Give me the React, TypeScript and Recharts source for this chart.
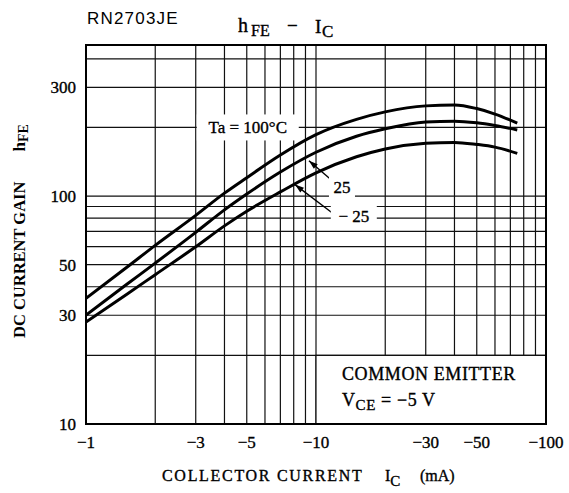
// hFE - IC characteristic, RN2703JE

import { LineChart, Line, XAxis, YAxis, CartesianGrid, ReferenceArea, ReferenceDot, ReferenceLine } from 'recharts';

// collector current magnitude (mA), plotted with negative labels
const icValues = [1, 1.5, 2, 3, 4, 5, 7, 10, 15, 20, 30, 40, 50, 60, 75];
const hfeTa100 = [35.6, 48.6, 60.8, 82.3, 103, 120.4, 151.4, 186, 217, 234, 248.7, 251, 242, 229, 209];
const hfeTa25 = [30, 40.9, 50.8, 69.3, 87, 102.1, 127.5, 155.7, 183, 197.3, 211.3, 213, 209.5, 203.8, 195];
const hfeTaM25 = [28, 37, 45.2, 59.9, 74, 85.8, 104.3, 126.5, 148.8, 161, 170.5, 172, 168.5, 164, 154];

const xGridTicks = [1, 2, 3, 4, 5, 6, 7, 8, 9, 10, 20, 30, 40, 50, 60, 70, 80, 90, 100];
const yGridTicks = [10, 20, 30, 40, 50, 60, 70, 80, 90, 100, 200, 300, 400];
const xLabelTicks = [1, 3, 5, 10, 30, 50, 100];
const yLabelTicks = [10, 30, 50, 100, 300];

const chartData = icValues.map((ic, i) => ({
  ic,
  ta100: hfeTa100[i],
  ta25: hfeTa25[i],
  taM25: hfeTaM25[i],
}));

const SERIF = '"Liberation Serif", "DejaVu Serif", serif';
// thin outline to give the serif text a little more weight, like the printed sheet
const heavy = { stroke: '#000', strokeWidth: 0.35 };

function XTick({ x, y, payload }: any) {
  if (!xLabelTicks.includes(payload.value)) return null;
  return (
    <text x={x} y={y + 24} textAnchor="middle" fontFamily={SERIF} fontSize={17} fill="#000" {...heavy}>
      {'\u2212' + payload.value}
    </text>
  );
}

function YTick({ x, y, payload }: any) {
  if (!yLabelTicks.includes(payload.value)) return null;
  return (
    <text x={x - 10} y={y + 6} textAnchor="end" fontFamily={SERIF} fontSize={17} fill="#000" {...heavy}>
      {payload.value}
    </text>
  );
}

// text on a white patch, placed in data coordinates
function boxedLabel(text: string, w: number, h: number) {
  return (p: any) => (
    <g>
      <rect x={p.cx - w / 2} y={p.cy - h / 2} width={w} height={h} fill="#fff" />
      <text x={p.cx} y={p.cy + 6} textAnchor="middle" fontFamily={SERIF} fontSize={17} fill="#000" {...heavy}>
        {text}
      </text>
    </g>
  );
}

function plainText(content: any) {
  return (p: any) => (
    <text x={p.cx} y={p.cy} fontFamily={SERIF} fontSize={18} fill="#000" letterSpacing={0.6} {...heavy}>
      {content}
    </text>
  );
}

function arrowLine(p: any) {
  const { x1, y1, x2, y2 } = p;
  const a = Math.atan2(y2 - y1, x2 - x1);
  const L = 9, W = 3;
  const bx = x2 - L * Math.cos(a), by = y2 - L * Math.sin(a);
  const pts = [
    `${x2},${y2}`,
    `${bx + W * Math.sin(a)},${by - W * Math.cos(a)}`,
    `${bx - W * Math.sin(a)},${by + W * Math.cos(a)}`,
  ].join(' ');
  return (
    <g>
      <line x1={x1} y1={y1} x2={x2} y2={y2} stroke="#000" strokeWidth={1.4} />
      <polygon points={pts} fill="#000" />
    </g>
  );
}

export default function App() {
  return (
    <div style={{ position: 'absolute', left: 0, top: 0, width: 569, height: 493, background: '#fff' }}>
      <LineChart width={569} height={493} data={chartData} margin={{ top: 45, right: 23, bottom: 0, left: 0 }}>
        <CartesianGrid stroke="#111" strokeWidth={1.2} fill="#fff" />
        <XAxis dataKey="ic" type="number" scale="log" domain={[1, 100]} ticks={xGridTicks} interval={0}
          allowDataOverflow axisLine={false} tickLine={false} tickSize={0} tickMargin={0} height={69} tick={<XTick />} />
        <YAxis type="number" scale="log" domain={[10, 460]} ticks={yGridTicks} interval={0}
          allowDataOverflow axisLine={false} tickLine={false} tickSize={0} tickMargin={0} width={86} tick={<YTick />} />

        <ReferenceArea x1={10} x2={100} y1={10} y2={20} fill="#fff" fillOpacity={1} stroke="#111" strokeWidth={1.2} />
        <ReferenceDot x={5.05} y={200} r={0} ifOverflow="visible" shape={boxedLabel('Ta = 100°C', 102, 26)} />
        <ReferenceDot x={12.97} y={110} r={0} ifOverflow="visible" shape={boxedLabel('25', 26, 24)} />
        <ReferenceDot x={14.6} y={81.7} r={0} ifOverflow="visible" shape={boxedLabel('\u2212 25', 46, 24)} />

        <ReferenceLine segment={[{ x: 11.74, y: 117 }, { x: 9.32, y: 143 }]} ifOverflow="visible" shape={arrowLine} />
        <ReferenceLine segment={[{ x: 11.86, y: 83.8 }, { x: 8.1, y: 112.3 }]} ifOverflow="visible" shape={arrowLine} />

        <ReferenceDot x={12.97} y={15.6} r={0} ifOverflow="visible" shape={plainText('COMMON  EMITTER')} />
        <ReferenceDot x={12.97} y={12.0} r={0} ifOverflow="visible"
          shape={plainText(<>V<tspan fontSize={15} dy={4}>CE</tspan><tspan dy={-4}> = {'\u2212'}5 V</tspan></>)} />

        <Line dataKey="ta100" type="monotone" stroke="#000" strokeWidth={3} dot={false} isAnimationActive={false} />
        <Line dataKey="ta25" type="monotone" stroke="#000" strokeWidth={3} dot={false} isAnimationActive={false} />
        <Line dataKey="taM25" type="monotone" stroke="#000" strokeWidth={3} dot={false} isAnimationActive={false} />

        <ReferenceArea x1={1} x2={100} y1={10} y2={460} fill="none" stroke="#000" strokeWidth={2} ifOverflow="visible" />
      </LineChart>

      <svg width={569} height={493} style={{ position: 'absolute', left: 0, top: 0, pointerEvents: 'none' }}>
        <text x={87} y={24} fontFamily='"Liberation Sans", Arial, sans-serif' fontSize={17} letterSpacing={1.2} fill="#000">RN2703JE</text>
        <g fontFamily={SERIF} fill="#000" {...heavy}>
          <text x={238} y={32} fontSize={20}>h</text>
          <text x={251} y={36} fontSize={16}>FE</text>
          <text x={287} y={32} fontSize={19}>{'\u2212'}</text>
          <text x={315} y={33} fontSize={19}>I</text>
          <text x={322} y={37} fontSize={17}>C</text>
        </g>
        <text x={162} y={481} fontFamily={SERIF} fontSize={16} letterSpacing={1.7} fill="#000" {...heavy}>
          COLLECTOR CURRENT
        </text>
        <text x={385} y={481} fontFamily={SERIF} fontSize={16} fill="#000" {...heavy}>
          I<tspan fontSize={15} dy={5}>C</tspan>
        </text>
        <text x={420} y={481} fontFamily={SERIF} fontSize={16} fill="#000" {...heavy}>(mA)</text>
        <text transform="translate(25,338) rotate(-90)" fontFamily={SERIF} fontSize={16.5} fontWeight="bold" fill="#000">
          DC CURRENT GAIN<tspan dx={30} fontSize={17}>h</tspan><tspan fontSize={14} dy={3}>FE</tspan>
        </text>
      </svg>
    </div>
  );
}
